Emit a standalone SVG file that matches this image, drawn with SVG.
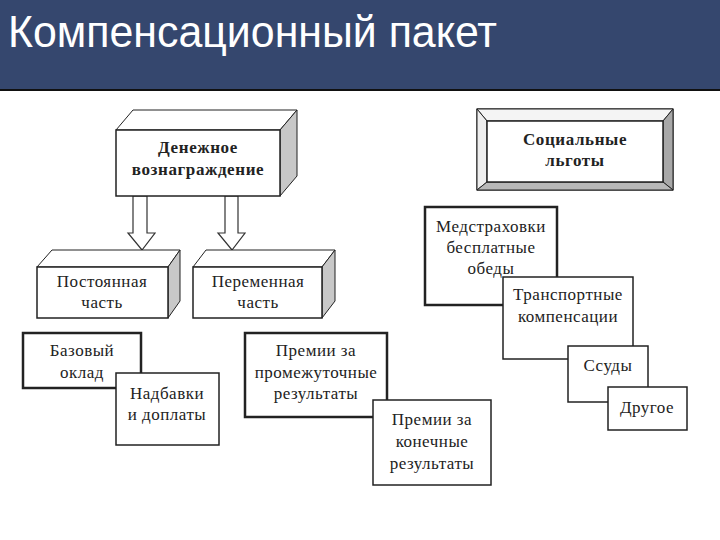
<svg xmlns="http://www.w3.org/2000/svg" width="720" height="540" viewBox="0 0 720 540">
<style>
text.t{font-family:'Liberation Serif','Times New Roman',serif;font-size:17px;letter-spacing:0.5px;fill:#222;text-anchor:middle}
text.b{font-weight:bold;font-size:17px;letter-spacing:0.6px}
.box{fill:#fff;stroke:#222;stroke-width:1.5}
.thick{fill:#fff;stroke:#222;stroke-width:2.5}
.side{fill:#c8c8c8;stroke:#222;stroke-width:1}
.top{fill:#fff;stroke:#222;stroke-width:1}
.arr{fill:#fff;stroke:#333;stroke-width:1.2}
</style>
<rect x="0" y="0" width="720" height="540" fill="#fff"/>
<g id="header">
<rect x="0" y="0" width="720" height="90" fill="#35476e"/>
<line x1="0" y1="90" x2="720" y2="90" stroke="#111" stroke-width="2"/>
<text x="8" y="47" font-family="Liberation Sans,Arial,sans-serif" font-size="44" fill="#fff" textLength="489" lengthAdjust="spacingAndGlyphs">Компенсационный пакет</text>
</g>
<g id="connectors">
<path class="arr" d="M133,196 L147,196 L147,233 L155,233 L142,250 L128,233 L133,233 Z"/>
<path class="arr" d="M225,196 L238,196 L238,233 L245,233 L232,250 L218,233 L225,233 Z"/>
</g>
<g font-family="Liberation Serif, Times New Roman, serif">
<g id="money">
<polygon class="top" points="116,130 133,110 297,110 280,130"/>
<polygon class="side" points="280,130 297,110 297,176 280,196"/>
<rect class="box" x="116" y="130" width="164" height="66" stroke-width="1.2"/>
<text class="t b" x="198" y="153">Денежное</text>
<text class="t b" x="198" y="175">вознаграждение</text>
</g>
<g id="constant">
<polygon class="top" points="37,267 52,250 180,250 168,267"/>
<polygon class="side" points="168,267 180,250 180,301 168,318"/>
<rect class="box" x="37" y="267" width="131" height="51" stroke-width="1.2"/>
<text class="t" x="102" y="287">Постоянная</text>
<text class="t" x="102" y="308">часть</text>
</g>
<g id="variable">
<polygon class="top" points="193,267 206,250 335,250 322,267"/>
<polygon class="side" points="322,267 335,250 335,301 322,318"/>
<rect class="box" x="193" y="267" width="129" height="51" stroke-width="1.2"/>
<text class="t" x="258" y="287">Переменная</text>
<text class="t" x="258" y="308">часть</text>
</g>
<g id="social">
<rect x="477" y="109" width="196" height="81" fill="#e8e8e8" stroke="#222" stroke-width="1.2"/>
<polygon points="477,109 673,109 663,121 487,121" fill="#f4f4f4" stroke="#222" stroke-width="1"/>
<polygon points="477,109 487,121 487,182 477,190" fill="#eeeeee" stroke="#222" stroke-width="1"/>
<polygon points="673,109 663,121 663,182 673,190" fill="#a8a8a8" stroke="#222" stroke-width="1"/>
<polygon points="477,190 487,182 663,182 673,190" fill="#b8b8b8" stroke="#222" stroke-width="1"/>
<rect x="487" y="121" width="176" height="61" fill="#fff" stroke="#222" stroke-width="1.5"/>
<text class="t b" x="575" y="145">Социальные</text>
<text class="t b" x="575" y="166">льготы</text>
</g>
<g id="base">
<rect class="thick" x="23" y="333" width="118" height="55"/>
<text class="t" x="82" y="356">Базовый</text>
<text class="t" x="82" y="378">оклад</text>
</g>
<g id="extra">
<rect class="box" x="116" y="373" width="103" height="72"/>
<text class="t" x="167" y="399">Надбавки</text>
<text class="t" x="167" y="420">и доплаты</text>
</g>
<g id="bonus-mid">
<rect class="thick" x="245" y="333" width="142" height="84"/>
<text class="t" x="316" y="356">Премии за</text>
<text class="t" x="316" y="378">промежуточные</text>
<text class="t" x="316" y="399">результаты</text>
</g>
<g id="bonus-final">
<rect class="box" x="373" y="400" width="118" height="85"/>
<text class="t" x="432" y="425">Премии за</text>
<text class="t" x="432" y="447">конечные</text>
<text class="t" x="432" y="469">результаты</text>
</g>
<g id="med">
<rect class="thick" x="425" y="207" width="132" height="98"/>
<text class="t" x="491" y="232">Медстраховки</text>
<text class="t" x="491" y="253">бесплатные</text>
<text class="t" x="491" y="274">обеды</text>
</g>
<g id="transport">
<rect class="box" x="503" y="277" width="130" height="82"/>
<text class="t" x="568" y="300">Транспортные</text>
<text class="t" x="568" y="322">компенсации</text>
</g>
<g id="loans">
<rect class="box" x="568" y="346" width="80" height="56"/>
<text class="t" x="608" y="371">Ссуды</text>
</g>
<g id="other">
<rect class="box" x="608" y="387" width="79" height="43"/>
<text class="t" x="647" y="413">Другое</text>
</g>
</g>
</svg>
